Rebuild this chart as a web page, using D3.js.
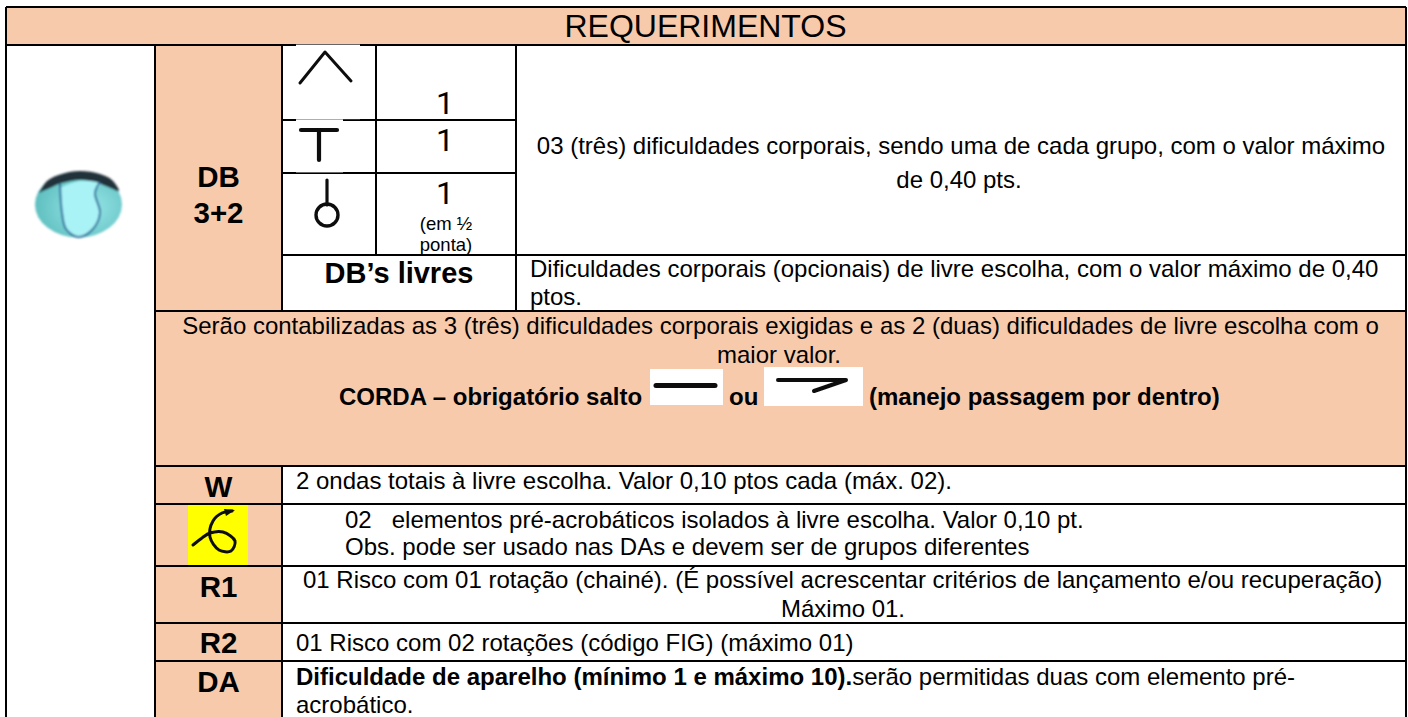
<!DOCTYPE html>
<html>
<head>
<meta charset="utf-8">
<script src="https://cdn.jsdelivr.net/npm/d3@7"></script>
<style>
	html, body { margin: 0; padding: 0; background: white; }
	svg { display: block; }
	text { font-family: "Liberation Sans", Arial, sans-serif; fill: #000; white-space: pre; }
</style>
</head>
<body>
<div id="table"></div>
<script>
// table content
let titleText = ["REQUERIMENTOS"];
let sideLabels = ["DB", "3+2", "W", "R1", "R2", "DA"];
let groupValues = ["1", "1", "1"];
let groupNote = ["(em ½", "ponta)"];
let freeLabel = ["DB’s livres"];
let plainLines = [
	"03 (três) dificuldades corporais, sendo uma de cada grupo, com o valor máximo",
	"de 0,40 pts.",
	"Dificuldades corporais (opcionais) de livre escolha, com o valor máximo de 0,40",
	"ptos.",
	"Serão contabilizadas as 3 (três) dificuldades corporais exigidas e as 2 (duas) dificuldades de livre escolha com o",
	"maior valor.",
	"2 ondas totais à livre escolha. Valor 0,10 ptos cada (máx. 02).",
	"02   elementos pré-acrobáticos isolados à livre escolha. Valor 0,10 pt.",
	"Obs. pode ser usado nas DAs e devem ser de grupos diferentes",
	"01 Risco com 01 rotação (chainé). (É possível acrescentar critérios de lançamento e/ou recuperação)",
	"Máximo 01.",
	"01 Risco com 02 rotações (código FIG) (máximo 01)",
	"acrobático."
];
let cordaLine = ["CORDA – obrigatório salto", "ou", "(manejo passagem por dentro)"];
let daBold = "Dificuldade de aparelho (mínimo 1 e máximo 10).";
let daPlain = "serão permitidas duas com elemento pré-";

// layout, kept apart from the text
let width = 1408;
let height = 717;
let orange = "#f7caac";
let x = d3.scaleOrdinal()
	.domain(["left", "ball", "side", "sym", "val", "right"])
	.range([6, 155, 282, 376, 516, 1406]);
let y = d3.scaleOrdinal()
	.domain(["top", "head", "g1", "g2", "g3", "free", "panel", "w", "acro", "r1", "r2", "end"])
	.range([7, 45, 120, 173, 255, 311, 466, 504, 566, 623, 661, 717]);

let svg = d3.select("#table").append("svg")
	.attr("width", width)
	.attr("height", height);

let fills = [
	["left", "right", "top", "head"],
	["ball", "side", "head", "panel"],
	["ball", "right", "free", "panel"],
	["ball", "side", "panel", "end"]
];
svg.selectAll("rect.fill")
	.data(fills)
	.enter().append("rect")
	.attr("class", "fill")
	.attr("x", d => x(d[0]))
	.attr("y", d => y(d[2]))
	.attr("width", d => x(d[1]) - x(d[0]))
	.attr("height", d => y(d[3]) - y(d[2]))
	.attr("fill", orange);

// [x1, x2, y1, y2] by name
let rules = [
	["left", "right", "top", "top"], ["left", "right", "head", "head"],
	["side", "val", "g1", "g1"], ["side", "val", "g2", "g2"], ["side", "right", "g3", "g3"],
	["ball", "right", "free", "free"], ["ball", "right", "panel", "panel"],
	["ball", "right", "w", "w"], ["ball", "right", "acro", "acro"], ["ball", "right", "r1", "r1"],
	["ball", "right", "r2", "r2"],
	["left", "left", "top", "end"], ["right", "right", "top", "end"], ["ball", "ball", "head", "end"],
	["side", "side", "head", "free"], ["side", "side", "panel", "end"],
	["sym", "sym", "head", "g3"], ["val", "val", "head", "free"]
];
svg.selectAll("line.rule")
	.data(rules)
	.enter().append("line")
	.attr("class", "rule")
	.attr("x1", d => x(d[0]))
	.attr("x2", d => x(d[1]))
	.attr("y1", d => y(d[2]))
	.attr("y2", d => y(d[3]))
	.attr("stroke", "#000")
	.attr("stroke-width", 2)
	.attr("shape-rendering", "crispEdges");

// white backgrounds of the pasted symbols
let patches = [[296, 44.6, 64, 74.6], [296, 119.4, 47, 53], [650, 369, 73, 36], [764, 367, 99, 39]];
svg.selectAll("rect.patch")
	.data(patches)
	.enter().append("rect")
	.attr("class", "patch")
	.attr("x", d => d[0])
	.attr("y", d => d[1])
	.attr("width", d => d[2])
	.attr("height", d => d[3])
	.attr("fill", "white");
svg.append("rect").attr("x", 188).attr("y", 505).attr("width", 60).attr("height", 60).attr("fill", "#ffff00");

function put(str, px, py, size, anchor, bold) {
	return svg.append("text")
		.text(str)
		.attr("x", px)
		.attr("y", py)
		.attr("font-size", size)
		.attr("text-anchor", anchor || "start")
		.attr("font-weight", bold ? "bold" : "normal");
}

let sideCentre = (x("ball") + x("side")) / 2;
let valCentre = (x("sym") + x("val")) / 2;
let bodySize = 24;
let bigSize = 29.5;

put(titleText[0], 705.5, 37, 32, "middle");

[187, 223, 497, 597, 653, 692].forEach((py, i) => put(sideLabels[i], sideCentre, py, bigSize, "middle", true));
// Roboto here because its 1 has no foot
[113.5, 151, 204].forEach((py, i) => put(groupValues[i], valCentre - 1, py, 32, "middle").style("font-family", "Roboto"));
[230, 251].forEach((py, i) => put(groupNote[i], valCentre, py, 18.5, "middle"));
put(freeLabel[0], 399, 283, 29, "middle", true);

// plain text lines: x, baseline, anchor
let plainPos = [
	[961, 154, "middle"], [959, 188, "middle"], [530, 277, "start"], [530, 305, "start"],
	[780.5, 334, "middle"], [779, 362.5, "middle"], [296, 488.5, "start"], [345, 527.5, "start"],
	[345, 554.5, "start"], [303, 588, "start"], [843, 616.5, "middle"], [296, 651, "start"],
	[296, 713, "start"]
];
plainLines.forEach((s, i) => put(s, plainPos[i][0], plainPos[i][1], bodySize, plainPos[i][2]));

[339, 729, 869].forEach((px, i) => put(cordaLine[i], px, 405, bodySize, "start", true));

let daText = svg.append("text").attr("x", 296).attr("y", 685).attr("font-size", bodySize);
daText.append("tspan").attr("font-weight", "bold").text(daBold);
daText.append("tspan").text(daPlain);

// hand drawn symbols
let defs = svg.append("defs");
let soft = defs.append("filter").attr("id", "soft").attr("filterUnits", "userSpaceOnUse")
	.attr("x", 0).attr("y", 0).attr("width", width).attr("height", height);
soft.append("feGaussianBlur").attr("stdDeviation", 0.6);
let blur = defs.append("filter").attr("id", "blur").attr("filterUnits", "userSpaceOnUse")
	.attr("x", 0).attr("y", 0).attr("width", width).attr("height", height);
blur.append("feGaussianBlur").attr("stdDeviation", 1.1);

let straight = d3.line();
let smooth = d3.line().curve(d3.curveCatmullRom.alpha(0.5));

function stroke(points, w, gen) {
	return svg.append("path")
		.attr("d", (gen || straight)(points))
		.attr("fill", "none")
		.attr("stroke", "#111")
		.attr("stroke-width", w)
		.attr("stroke-linecap", "round")
		.attr("stroke-linejoin", "round")
		.attr("filter", "url(#soft)");
}

stroke([[300, 83], [325, 52], [351, 81]], 3);
stroke([[301, 130], [337, 130]], 4.2);
stroke([[319, 130], [319, 160]], 4.2);
stroke([[327, 180], [327, 205]], 3.2);
svg.append("circle").attr("cx", 327).attr("cy", 215).attr("r", 11)
	.attr("fill", "none").attr("stroke", "#111").attr("stroke-width", 3.4).attr("filter", "url(#soft)");
stroke([[656, 385.5], [715, 385.5]], 5);
stroke([[778, 380], [846, 380], [814, 391]], 4);
stroke([[193, 545], [202, 538], [210, 533], [223, 532], [235, 541], [231, 551], [219, 550], [210, 537], [213, 521], [222, 513], [232, 511]], 3, smooth);
svg.append("path").attr("d", straight([[224, 509], [235, 510], [226, 516]]) + "Z").attr("fill", "#111").attr("filter", "url(#soft)");

// ball
let ballGrad = defs.append("radialGradient").attr("id", "ballGrad")
	.attr("cx", "0.6").attr("cy", "0.55").attr("r", "0.6");
ballGrad.append("stop").attr("offset", "0%").attr("stop-color", "#9be8ea");
ballGrad.append("stop").attr("offset", "100%").attr("stop-color", "#5fbfc0");

let ball = svg.append("g").attr("filter", "url(#blur)");
ball.append("ellipse").attr("cx", 78.5).attr("cy", 204.5).attr("rx", 43.5).attr("ry", 33)
	.attr("fill", "url(#ballGrad)");
ball.append("path")
	.attr("d", smooth([[39, 193], [47, 181], [62, 174], [80, 171], [100, 174], [112, 180], [119, 191], [108, 187], [98, 183], [80, 180], [62, 183], [50, 188], [39, 193]]))
	.attr("fill", "#22303a");
ball.append("path")
	.attr("d", smooth([[60, 188], [62, 213], [66, 229], [78, 237], [92, 230], [100, 213], [95, 193], [100, 184], [80, 181], [60, 188]]))
	.attr("fill", "#a9f3f6");
ball.append("path")
	.attr("d", smooth([[60, 184], [62, 213], [66, 229], [78, 237], [92, 230], [100, 213], [95, 193], [100, 182]]))
	.attr("fill", "none")
	.attr("stroke", "#2c6c9c")
	.attr("stroke-width", 2);
</script>
</body>
</html>
